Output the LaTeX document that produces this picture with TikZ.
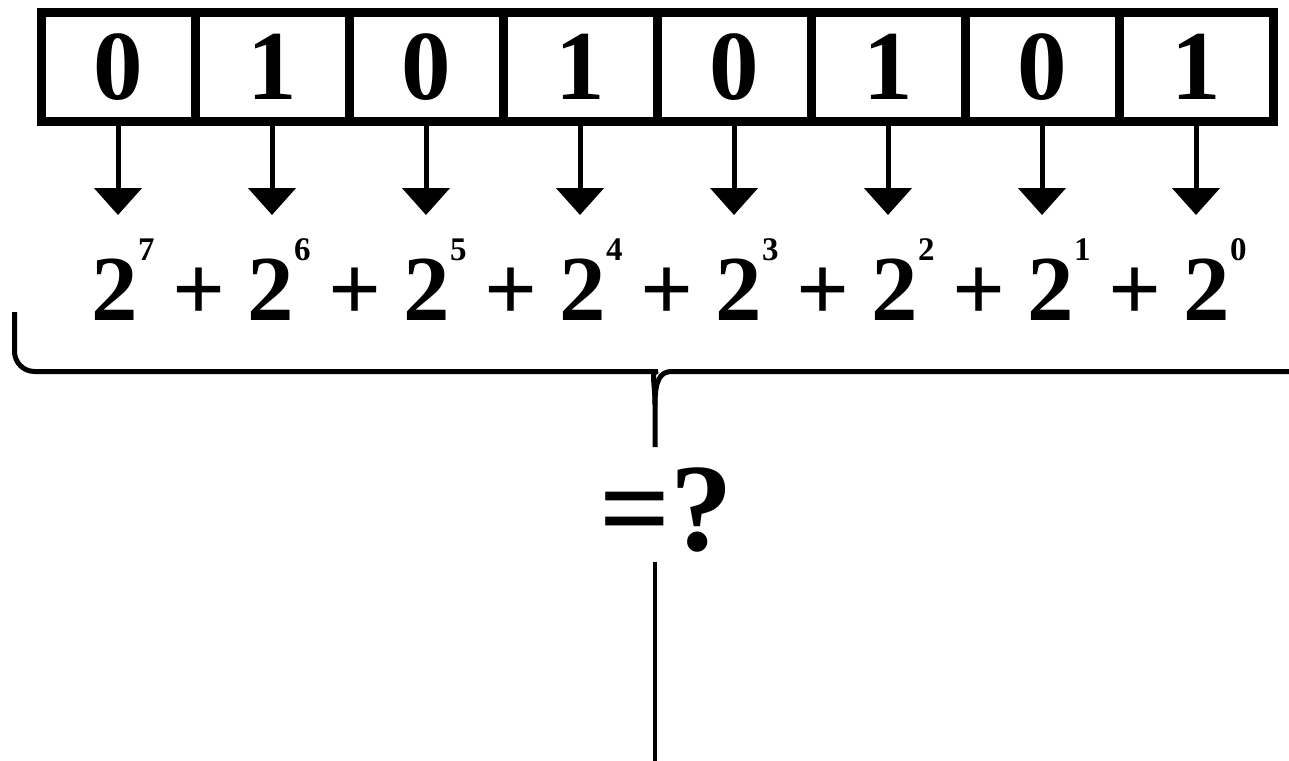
\documentclass[tikz,border=0pt]{standalone}
\usepackage{fontspec}
\setmainfont{Liberation Serif}
\usetikzlibrary{arrows.meta}
\begin{document}
\begin{tikzpicture}[x=1pt,y=-1pt,
  bitbox/.style={draw,line width=9pt,minimum width=154pt,minimum height=108.5pt,inner sep=0pt,
    font=\fontsize{99}{99}\selectfont\bfseries},
  bitarrow/.style={line width=5pt,-{Triangle[width=47pt,length=27pt]}},
  basetxt/.style={inner sep=0pt,anchor=base,font=\fontsize{93}{93}\selectfont\bfseries},
  expotxt/.style={inner sep=0pt,anchor=base west,font=\fontsize{33}{33}\selectfont\bfseries},
  bracepath/.style={line width=5pt},
  resulttxt/.style={inner sep=0pt,anchor=base,font=\fontsize{125}{125}\selectfont\bfseries},
  thinline/.style={line width=3.5pt}]
\fill[white] (0,0) rectangle (1289,760);
\useasboundingbox (0,0) rectangle (1289,760);
% bit boxes
\foreach \d [count=\i] in {0,1,0,1,0,1,0,1} {
  \node[bitbox] (b\i) at ({118+154*(\i-1)},66.75) {\d};
  \coordinate (a\i) at ({118+154*(\i-1)},215);
  \draw[bitarrow] (b\i.south) -- (a\i);
}
% powers of two
\foreach \e [count=\i] in {7,6,5,4,3,2,1,0} {
  \pgfmathsetmacro{\xc}{115+156*(\i-1)}
  \node[basetxt] (t\i) at (\xc,320) {2};
  \node[expotxt] (e\i) at (\xc+23,260) {\e};
  \ifnum\i<8
    \node[basetxt] (p\i) at (\xc+83.5,320) {+};
  \fi
}
% brace
\draw[bracepath] (14.5,312) [rounded corners=20pt] -- (14.5,371.5) -- (638,371.5) [sharp corners]
  .. controls (650,371.5) and (655,380) .. (655,405) -- (655,447);
\draw[bracepath] (1295,371.5) -- (672,371.5) .. controls (660,371.5) and (655,380) .. (655,405);
% result
\node[resulttxt] (q) at (666,550) {=?};
\coordinate (linetop) at (655,562);
\coordinate (lineend) at (655,762);
\draw[thinline] (linetop) -- (lineend);
\end{tikzpicture}
\end{document}
